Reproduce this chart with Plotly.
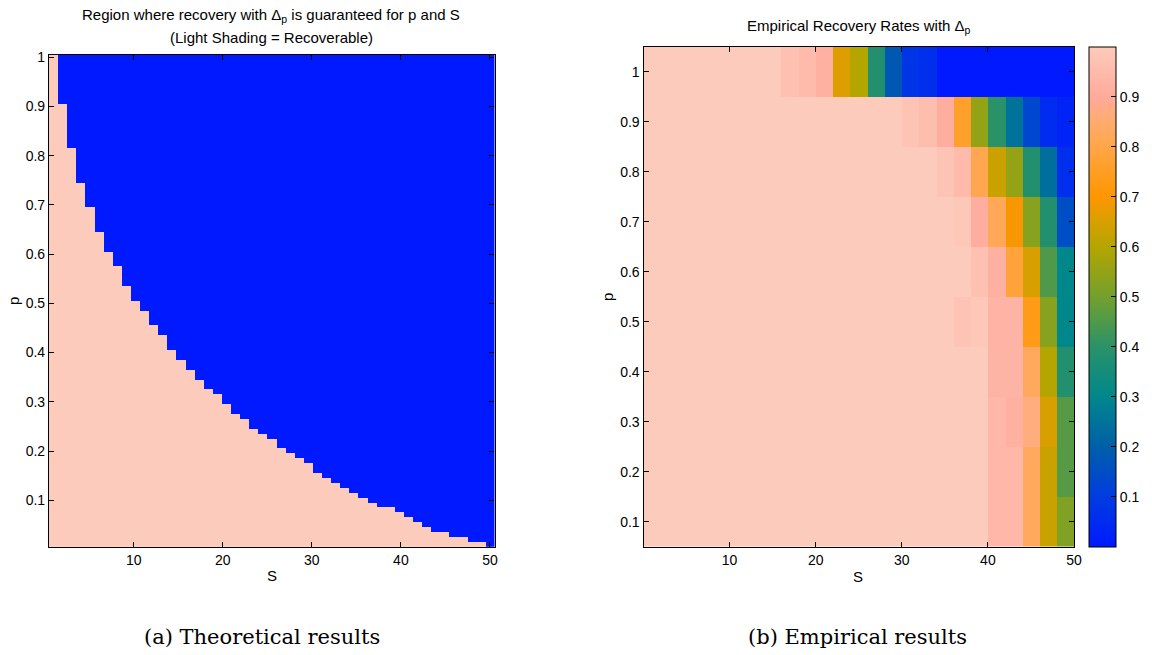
import numpy as np
import plotly.graph_objects as go

# ---------------- data ----------------
# Theoretical panel: 49 S-columns spread over 1..50, p rows from 0.01 to 1.00
S_theory = np.linspace(1, 50, 49)
p_theory = np.round(np.arange(1, 101) * 0.01, 2)
# largest p (per S column) for which recovery is guaranteed (0 = never)
p_max_theory = [1.00, 0.90, 0.81, 0.74, 0.69, 0.64, 0.60, 0.57, 0.53, 0.50,
                0.48, 0.45, 0.43, 0.40, 0.38, 0.36, 0.34, 0.32, 0.31, 0.29,
                0.27, 0.26, 0.24, 0.23, 0.22, 0.20, 0.19, 0.18, 0.17, 0.15,
                0.14, 0.13, 0.12, 0.11, 0.10, 0.09, 0.08, 0.08, 0.07, 0.06,
                0.05, 0.04, 0.03, 0.03, 0.02, 0.02, 0.01, 0.01, 0.00]

# Empirical panel: S bins of width 2, p from 0.1 to 1.0
S_emp = [1, 3, 5, 7, 9, 11, 13, 15, 17, 19, 21, 23, 25,
         27, 29, 31, 33, 35, 37, 39, 41, 43, 45, 47, 49]
p_emp = [0.1, 0.2, 0.3, 0.4, 0.5, 0.6, 0.7, 0.8, 0.9, 1.0]
rate_p01 = [1, 1, 1, 1, 1, 1, 1, 1, 1, 1, 1, 1, 1, 1, 1, 1, 1, 1, 1, 1,
            0.94, 0.94, 0.83, 0.63, 0.52]
rate_p02 = [1, 1, 1, 1, 1, 1, 1, 1, 1, 1, 1, 1, 1, 1, 1, 1, 1, 1, 1, 1,
            0.94, 0.94, 0.83, 0.63, 0.46]
rate_p03 = [1, 1, 1, 1, 1, 1, 1, 1, 1, 1, 1, 1, 1, 1, 1, 1, 1, 1, 1, 1,
            0.94, 0.92, 0.87, 0.65, 0.46]
rate_p04 = [1, 1, 1, 1, 1, 1, 1, 1, 1, 1, 1, 1, 1, 1, 1, 1, 1, 1, 1, 1,
            0.93, 0.93, 0.83, 0.60, 0.38]
rate_p05 = [1, 1, 1, 1, 1, 1, 1, 1, 1, 1, 1, 1, 1, 1, 1, 1, 1, 1, 0.98, 0.99,
            0.93, 0.93, 0.73, 0.53, 0.30]
rate_p06 = [1, 1, 1, 1, 1, 1, 1, 1, 1, 1, 1, 1, 1, 1, 1, 1, 1, 1, 1, 0.97,
            0.92, 0.78, 0.65, 0.45, 0.30]
rate_p07 = [1, 1, 1, 1, 1, 1, 1, 1, 1, 1, 1, 1, 1, 1, 1, 1, 1, 1, 0.99, 0.91,
            0.82, 0.69, 0.53, 0.38, 0.15]
rate_p08 = [1, 1, 1, 1, 1, 1, 1, 1, 1, 1, 1, 1, 1, 1, 1, 1, 1, 0.98, 0.95, 0.81,
            0.63, 0.55, 0.38, 0.24, 0.06]
rate_p09 = [1, 1, 1, 1, 1, 1, 1, 1, 1, 1, 1, 1, 1, 1, 1, 0.98, 0.96, 0.91, 0.76, 0.55,
            0.40, 0.25, 0.13, 0.05, 0.03]
rate_p10 = [1, 1, 1, 1, 1, 1, 1, 1, 0.97, 0.95, 0.92, 0.66, 0.60, 0.38, 0.18, 0.08,
            0.06, 0, 0, 0, 0, 0, 0, 0, 0]
rates = [rate_p01, rate_p02, rate_p03, rate_p04, rate_p05,
         rate_p06, rate_p07, rate_p08, rate_p09, rate_p10]

tick_p = [0.1, 0.2, 0.3, 0.4, 0.5, 0.6, 0.7, 0.8, 0.9, 1.0]
tick_S = [10, 20, 30, 40, 50]
tick_rate = [0.1, 0.2, 0.3, 0.4, 0.5, 0.6, 0.7, 0.8, 0.9]

# ---------------- styling ----------------
BLUE = "rgb(0,25,255)"
PEACH = "rgb(253,203,187)"
rate_scale = [
    [0.00, "rgb(0,25,255)"],
    [0.10, "rgb(0,60,225)"],
    [0.20, "rgb(0,95,168)"],
    [0.30, "rgb(0,135,140)"],
    [0.40, "rgb(42,146,104)"],
    [0.50, "rgb(115,160,45)"],
    [0.60, "rgb(180,165,0)"],
    [0.65, "rgb(215,160,0)"],
    [0.70, "rgb(255,150,0)"],
    [0.80, "rgb(255,166,72)"],
    [0.86, "rgb(255,172,118)"],
    [0.90, "rgb(255,170,155)"],
    [1.00, PEACH],
]
SANS = "Liberation Sans, Arial, sans-serif"
SERIF = "DejaVu Serif, serif"

z_theory = [[1 if p <= pm + 1e-9 else 0 for pm in p_max_theory] for p in p_theory]

fig = go.Figure()
fig.add_trace(go.Heatmap(
    x=S_theory, y=p_theory, z=z_theory, xaxis="x", yaxis="y",
    colorscale=[[0, BLUE], [1, PEACH]], zmin=0, zmax=1,
    showscale=False, hoverinfo="skip"))
fig.add_trace(go.Heatmap(
    x=S_emp, y=p_emp, z=rates, xaxis="x2", yaxis="y2",
    colorscale=rate_scale, zmin=0, zmax=1,
    colorbar=dict(
        x=1089 / 1152, xanchor="left", xpad=0, ypad=0,
        y=(655 - 296.7) / 655, yanchor="middle",
        thickness=27, thicknessmode="pixels",
        len=500, lenmode="pixels",
        outlinewidth=1, outlinecolor="black",
        tickvals=tick_rate, ticks="inside", ticklen=5, tickcolor="black",
        tickfont=dict(family=SANS, size=14, color="black")),
    hoverinfo="skip"))

axis_common = dict(showline=True, linecolor="black", linewidth=1.2, mirror="ticks",
                   ticks="inside", ticklen=5, tickcolor="black", showgrid=False,
                   zeroline=False, tickfont=dict(family=SANS, size=14, color="black"))

fig.update_layout(
    width=1152, height=655,
    margin=dict(l=0, r=0, t=0, b=0, autoexpand=False),
    paper_bgcolor="white", plot_bgcolor="white",
    xaxis=dict(domain=[49 / 1152, 494.5 / 1152], range=[0.49, 50.51],
               tickvals=tick_S, anchor="y", **axis_common),
    yaxis=dict(domain=[(655 - 547) / 655, (655 - 54.8) / 655], range=[0.005, 1.005],
               tickvals=tick_p, ticktext=[f"{v:g}" for v in tick_p], anchor="x",
               **axis_common),
    xaxis2=dict(domain=[643.5 / 1152, 1074 / 1152], range=[0, 50],
                tickvals=tick_S, anchor="y2", **axis_common),
    yaxis2=dict(domain=[(655 - 546.7) / 655, (655 - 46.7) / 655], range=[0.05, 1.05],
                tickvals=tick_p, ticktext=[f"{v:g}" for v in tick_p], anchor="x2",
                **axis_common),
)

def text(x, y, s, size=15, family=SANS, angle=0):
    fig.add_annotation(x=x / 1152, y=1 - y / 655, xref="paper", yref="paper",
                       text=s, showarrow=False, textangle=angle,
                       xanchor="center", yanchor="middle",
                       font=dict(family=family, size=size, color="black"))

# panel titles
text(271, 16, "Region where recovery with Δ<sub>p</sub> is guaranteed for p and S")
text(271, 37, "(Light Shading = Recoverable)")
text(859, 26, "Empirical Recovery Rates with Δ<sub>p</sub>")
# axis labels
text(272, 575, "S", size=15)
text(858, 576, "S", size=15)
text(14, 301, "p", size=15, angle=-90)
text(607, 297, "p", size=15, angle=-90)
# sub-figure captions
text(262, 637, "(a) Theoretical results", size=21, family=SERIF)
text(857, 637, "(b) Empirical results", size=21, family=SERIF)

fig.write_html("out.html")
